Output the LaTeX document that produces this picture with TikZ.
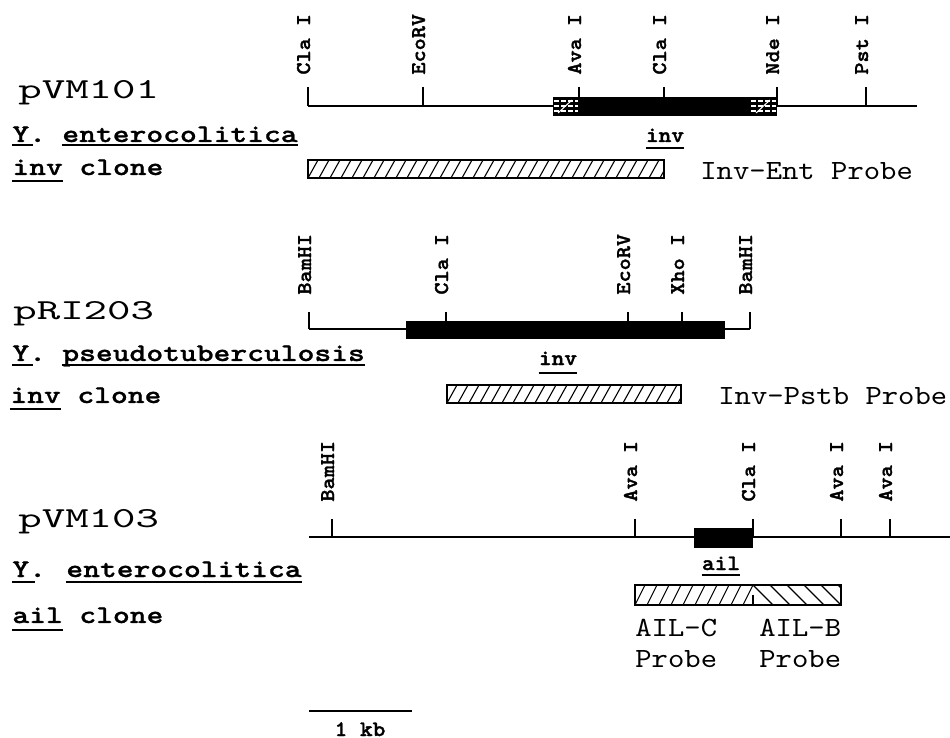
\documentclass[tikz,border=0pt]{standalone}
\usepackage{fontspec}
\newfontfamily\namefont{lmmono10-regular.otf}[FakeStretch=1.54]
\newfontfamily\probefont{lmmono10-regular.otf}[FakeStretch=1.12]
\newfontfamily\specfont{lmmonolt10-bold.otf}[FakeStretch=1.26, FakeBold=1]
\newfontfamily\sitefont{lmmonolt10-bold.otf}[FakeStretch=1.1, FakeBold=1.6]
\usetikzlibrary{calc}

\begin{document}
\begin{tikzpicture}[x=0.5pt, y=-0.5pt,
    dna/.style={line width=0.9pt},
    site/.style={line width=0.8pt},
    sitelbl/.style={font={\sitefont\fontsize{10.5}{12}\selectfont}, rotate=90, anchor=base west, inner sep=0pt},
    plasmid/.style={font={\namefont\fontsize{14.5}{17}\selectfont}, anchor=base west, inner sep=0pt},
    species/.style={font={\specfont\fontsize{12.7}{15}\selectfont}, anchor=base west, inner sep=0pt},
    genelbl/.style={font={\sitefont\fontsize{11}{13}\selectfont}, anchor=base, inner sep=0pt},
    probelbl/.style={font={\probefont\fontsize{13.9}{16}\selectfont}, anchor=base west, inner sep=0pt},
    uline/.style={line width=0.7pt},
    probe/.style={draw, line width=0.7pt},
    hatch/.style={line width=0.55pt},
    brick/.style={white, line width=0.6pt, dash pattern=on 2.5pt off 1pt}]
    \useasboundingbox (0,0) rectangle (950,738);

    % pVM101
    \node[plasmid] (pvm101) at (18,99) {pVM101};
    \node[species] (y1) at (12,142) {Y.};
    \node[species] (ent1) at (62,142) {enterocolitica};
    \draw[uline] ([yshift=-1.5pt]y1.base west) -- +(21,0);
    \draw[uline] ([yshift=-1.5pt]ent1.base west) -- ([yshift=-1.5pt]ent1.base east);
    \node[species] (inv1c) at (12,175) {inv};
    \node[species] (clone1) at (79,175) {clone};
    \draw[uline] ([yshift=-3pt]inv1c.base west) -- ([yshift=-3pt]inv1c.base east);

    \draw[dna] (308,106) -- (917,106);
    \foreach \x/\lbl [count=\i] in {308/Cla I, 423/EcoRV, 579/Ava I, 664/Cla I, 777/Nde I, 866/Pst I} {
        \draw[site] (\x,87) -- (\x,106);
        \node[sitelbl] (r1s\i) at (\x+2,75) {\lbl};
    }
    \fill (553,97) rectangle (777,116);
    \foreach \yy in {101,106,111} {
        \draw[brick] (554,\yy) -- (578,\yy);
        \draw[brick] (751,\yy) -- (776,\yy);
    }
    \draw[white, line width=0.5pt] (558,113) -- (572,100) (756,113) -- (770,100);
    \node[genelbl] (inv1) at (665,142) {inv};
    \draw[uline] ([yshift=-3pt]inv1.base west) -- ([yshift=-3pt]inv1.base east);

    \begin{scope}
        \clip (308,160) rectangle (664,178);
        \foreach \x in {297,308,...,664} \draw[hatch] (\x,178) -- +(10,-18);
    \end{scope}
    \draw[probe] (308,160) rectangle (664,178);
    \node[probelbl] (pr1) at (700,180) {Inv-Ent Probe};

    % pRI203
    \node[plasmid] (pri203) at (13,320) {pRI203};
    \node[species] (y2) at (12,361) {Y.};
    \node[species] (pst2) at (62,361) {pseudotuberculosis};
    \draw[uline] ([yshift=-2pt]y2.base west) -- +(21,0);
    \draw[uline] ([yshift=-2pt]pst2.base west) -- ([yshift=-2pt]pst2.base east);
    \node[species] (inv2c) at (10,403) {inv};
    \node[species] (clone2) at (77,403) {clone};
    \draw[uline] ([yshift=-3pt]inv2c.base west) -- ([yshift=-3pt]inv2c.base east);

    \draw[dna] (309,329) -- (750,329);
    \foreach \x/\lbl [count=\i] in {309/BamHI, 446/Cla I, 628/EcoRV, 682/Xho I, 750/BamHI} {
        \draw[site] (\x,312) -- (\x,329);
        \node[sitelbl] (r2s\i) at (\x+2,295) {\lbl};
    }
    \fill (406,321) rectangle (725,339);
    \node[genelbl] (inv2) at (558,365) {inv};
    \draw[uline] ([yshift=-4pt]inv2.base west) -- ([yshift=-4pt]inv2.base east);

    \begin{scope}
        \clip (447,385) rectangle (681,403);
        \foreach \x in {436,447,...,681} \draw[hatch] (\x,403) -- +(10,-18);
    \end{scope}
    \draw[probe] (447,385) rectangle (681,403);
    \node[probelbl] (pr2) at (718,405) {Inv-Pstb Probe};

    % pVM103
    \node[plasmid] (pvm103) at (18,528) {pVM103};
    \node[species] (y3) at (12,577) {Y.};
    \node[species] (ent3) at (66,577) {enterocolitica};
    \draw[uline] ([yshift=-2.5pt]y3.base west) -- +(23,0);
    \draw[uline] ([yshift=-2.5pt]ent3.base west) -- ([yshift=-2.5pt]ent3.base east);
    \node[species] (ail3c) at (12,623) {ail};
    \node[species] (clone3) at (79,623) {clone};
    \draw[uline] ([yshift=-3.5pt]ail3c.base west) -- ([yshift=-3.5pt]ail3c.base east);

    \draw[dna] (309,537) -- (950,537);
    \foreach \x/\lbl [count=\i] in {332/BamHI, 635/Ava I, 753/Cla I, 841/Ava I, 890/Ava I} {
        \draw[site] (\x,519) -- (\x,537);
        \node[sitelbl] (r3s\i) at (\x+2,502) {\lbl};
    }
    \fill (694,528) rectangle (753,548);
    \node[genelbl] (ail3) at (721,570) {ail};
    \draw[uline] ([yshift=-2.5pt]ail3.base west) -- ([yshift=-2.5pt]ail3.base east);

    \begin{scope}
        \clip (635,585) rectangle (753,605);
        \foreach \x in {623,635,...,743} \draw[hatch] (\x,605) -- +(10,-20);
    \end{scope}
    \begin{scope}
        \clip (753,585) rectangle (841,605);
        \foreach \x in {753,770,...,841} \draw[hatch] (\x,585) -- +(20,20);
    \end{scope}
    \draw[probe] (635,585) rectangle (841,605);
    \draw[probe] (753,595) -- (753,605);
    \node[probelbl] (ailc) at (635,637) {AIL-C};
    \node[probelbl] (ailcp) at (635,668) {Probe};
    \node[probelbl] (ailb) at (759,637) {AIL-B};
    \node[probelbl] (ailbp) at (759,668) {Probe};

    % 1 kb
    \coordinate (kbl) at (309,711);
    \coordinate (kbr) at (412,711);
    \draw[dna] (kbl) -- (kbr);
    \node[genelbl] (kb) at (360,736) {1 kb};
\end{tikzpicture}
\end{document}
